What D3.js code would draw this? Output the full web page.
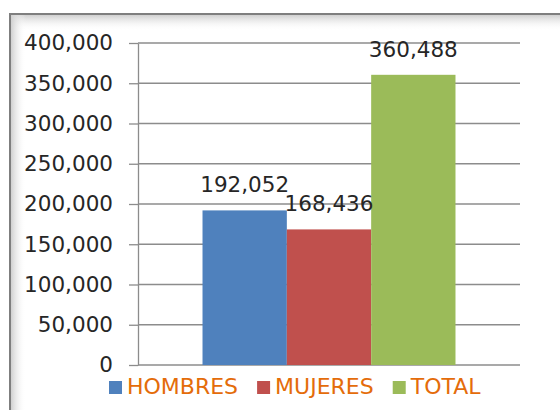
<!DOCTYPE html>
<html>
<head>
<meta charset="utf-8">
<script src="https://cdn.jsdelivr.net/npm/d3@7"></script>
<style>
  html, body { margin: 0; padding: 0; background: #fff; }
  svg { display: block; font-family: "DejaVu Sans", sans-serif; }
</style>
</head>
<body>
<div id="chart"></div>
<script>
// Población por sexo
const categories = ['HOMBRES', 'MUJERES', 'TOTAL'];
const values = [192052, 168436, 360488];
const colors = ['#4F81BD', '#C0504D', '#9BBB59'];
const yTicks = [0, 50000, 100000, 150000, 200000, 250000, 300000, 350000, 400000];

const width = 560, height = 410;
const plot = { left: 138, right: 520, top: 43, bottom: 365 };

const svg = d3.select('#chart')
    .append('svg')
    .attr('width', width)
    .attr('height', height);

// frame with soft inner shading
const defs = svg.append('defs');
const gTop = defs.append('linearGradient')
    .attr('id', 'shadeTop')
    .attr('x1', 0).attr('y1', 0).attr('x2', 0).attr('y2', 1);
gTop.append('stop').attr('offset', 0).attr('stop-color', '#d0d0d0');
gTop.append('stop').attr('offset', 1).attr('stop-color', '#fff').attr('stop-opacity', 0);
const gLeft = defs.append('linearGradient')
    .attr('id', 'shadeLeft')
    .attr('x1', 0).attr('y1', 0).attr('x2', 1).attr('y2', 0);
gLeft.append('stop').attr('offset', 0).attr('stop-color', '#d0d0d0');
gLeft.append('stop').attr('offset', 1).attr('stop-color', '#fff').attr('stop-opacity', 0);

svg.append('rect')
    .attr('x', 11).attr('y', 15).attr('width', width - 11).attr('height', 16)
    .attr('fill', 'url(#shadeTop)');
svg.append('rect')
    .attr('x', 11).attr('y', 15).attr('width', 15).attr('height', height - 15)
    .attr('fill', 'url(#shadeLeft)');
svg.append('path')
    .attr('d', `M10,${height} V14 H${width}`)
    .attr('fill', 'none')
    .attr('stroke', '#7f7f7f')
    .attr('stroke-width', 2);

const y = d3.scaleLinear()
    .domain([0, 400000])
    .range([plot.bottom, plot.top]);

const x = d3.scaleBand()
    .domain(categories)
    .range([plot.left, plot.right])
    .paddingInner(0)
    .paddingOuter(0.765);

// gridlines
svg.append('g')
    .selectAll('line')
    .data(yTicks)
    .enter()
    .append('line')
    .attr('x1', plot.left)
    .attr('x2', plot.right)
    .attr('y1', d => y(d))
    .attr('y2', d => y(d))
    .attr('stroke', '#8c8c8c')
    .attr('stroke-width', 1.3);

// bars
svg.append('g')
    .selectAll('rect')
    .data(values)
    .enter()
    .append('rect')
    .attr('x', (d, i) => x(categories[i]))
    .attr('y', d => y(d))
    .attr('width', x.bandwidth())
    .attr('height', d => y(0) - y(d))
    .attr('fill', (d, i) => colors[i]);

// value labels
svg.append('g')
    .selectAll('text')
    .data(values)
    .enter()
    .append('text')
    .attr('x', (d, i) => x(categories[i]) + x.bandwidth() / 2)
    .attr('y', d => y(d) - 18)
    .attr('text-anchor', 'middle')
    .attr('font-size', 21.5)
    .attr('fill', '#262626')
    .text(d => d3.format(',')(d));

// y axis
const axis = svg.append('g')
    .attr('transform', `translate(${plot.left},0)`)
    .call(d3.axisLeft(y)
        .tickValues(yTicks)
        .tickSize(9)
        .tickSizeOuter(0)
        .tickPadding(16)
        .tickFormat(d3.format(',')));
axis.selectAll('path, line')
    .attr('stroke', '#8c8c8c')
    .attr('stroke-width', 1.3);
axis.selectAll('text')
    .attr('font-family', '"DejaVu Sans", sans-serif')
    .attr('font-size', 21.5)
    .attr('fill', '#262626');

// legend
const legend = svg.append('g');
let lx = 109;
categories.forEach((c, i) => {
    legend.append('rect')
        .attr('x', lx).attr('y', 381)
        .attr('width', 13).attr('height', 13)
        .attr('fill', colors[i]);
    const t = legend.append('text')
        .attr('x', lx + 18)
        .attr('y', 394)
        .attr('font-size', 22)
        .attr('fill', '#E46C0A')
        .text(c);
    lx += 18 + t.node().getComputedTextLength() + 19;
});
</script>
</body>
</html>
